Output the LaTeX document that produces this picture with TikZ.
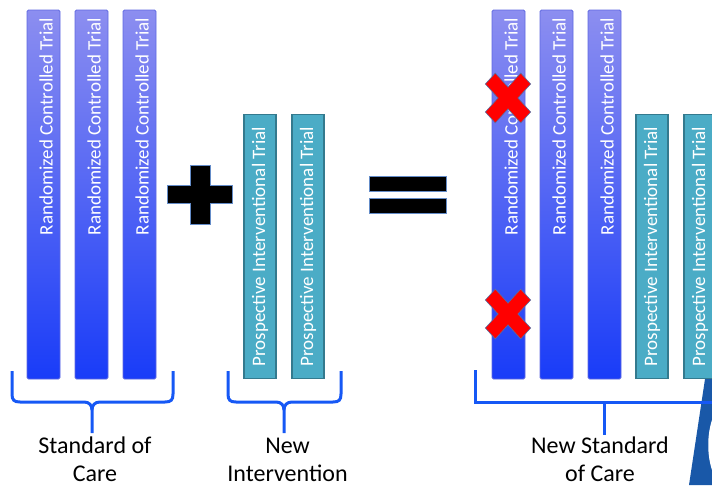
\documentclass[tikz,border=0pt]{standalone}
\usepackage{fontspec}
\setmainfont{Carlito}
\definecolor{rcttop}{RGB}{140,142,240}
\definecolor{rctbot}{RGB}{25,60,248}
\definecolor{rctline}{RGB}{95,105,225}
\definecolor{teal}{RGB}{75,172,198}
\definecolor{tealline}{RGB}{52,122,142}
\definecolor{braceblue}{RGB}{22,88,245}
\definecolor{xline}{RGB}{90,110,160}
\definecolor{symline}{RGB}{100,140,200}
\definecolor{logoblue}{RGB}{25,88,168}
\begin{document}
\begin{tikzpicture}[x=1pt,y=-1pt,
 rct/.style={draw=rctline, line width=0.8pt, top color=rcttop, bottom color=rctbot, minimum width=33pt, minimum height=369pt, inner sep=0pt, rounded corners=1.5pt},
 pit/.style={draw=tealline, line width=1.6pt, fill=teal, minimum width=32pt, minimum height=264pt, inner sep=0pt},
 btext/.style={rotate=90, text=white, font=\fontsize{19}{21}\selectfont, inner sep=0pt},
 brace/.style={draw=braceblue, line width=3pt},
 lbl/.style={align=center, font=\fontsize{24}{28}\selectfont, inner sep=0pt, anchor=base},
 xmark/.style={fill=red, draw=xline, line width=0.6pt},
 sym/.style={fill=black, draw=symline, line width=0.8pt},
 pics/xcross/.style={code={\draw[xmark, rotate=45] (-7,25) -- (7,25) -- (7,7) -- (25,7) -- (25,-7) -- (7,-7) -- (7,-25) -- (-7,-25) -- (-7,-7) -- (-25,-7) -- (-25,7) -- (-7,7) -- cycle;}}]
\useasboundingbox (0,0) rectangle (712,485);
\clip (0,0) rectangle (712,485);

% left RCT bars
\foreach \n/\x in {r1/43.5, r2/91.5, r3/139.5}{
  \node[rct] (\n) at (\x,194.5) {};
  \node[btext, anchor=east] (\n t) at ([xshift=2.5pt,yshift=-8pt]\n.north) {Randomized Controlled Trial};
}
% middle PIT bars
\foreach \n/\x in {p1/260, p2/308}{
  \node[pit] (\n) at (\x,246.5) {};
  \node[btext] (\n t) at (\n) {Prospective Interventional Trial};
}
% right RCT bars
\foreach \n/\x in {s1/508.5, s2/556.5, s3/604.5}{
  \node[rct] (\n) at (\x,194.5) {};
  \node[btext, anchor=east] (\n t) at ([xshift=2.5pt,yshift=-8pt]\n.north) {Randomized Controlled Trial};
}
% right PIT bars
\foreach \n/\x in {q1/652, q2/700}{
  \node[pit] (\n) at (\x,246.5) {};
  \node[btext] (\n t) at (\n) {Prospective Interventional Trial};
}

% red crosses
\pic[yscale=1.1] at (508,98) {xcross};
\pic[yscale=1.1] at (508,314) {xcross};

% plus sign
\draw[sym] (190,165) -- (210,165) -- (210,185) -- (232,185) -- (232,203) -- (210,203) -- (210,224) -- (190,224) -- (190,203) -- (167,203) -- (167,185) -- (190,185) -- cycle;
% equals sign
\draw[sym] (369,176) rectangle (446,191);
\draw[sym] (369,198) rectangle (446,213);

% logo fragment
\fill[logoblue] (689,485) -- (705,379) -- (712,379) -- (712,485) -- cycle;
\fill[white] (712,420) .. controls (707,435) and (707,455) .. (712,470) -- cycle;

% braces
\draw[brace] (12,371) -- (12,394) .. controls (12,400) and (14,402) .. (20,402) -- (84,402) .. controls (89,402) and (92,405) .. (92,410) -- (92,433);
\draw[brace] (173,371) -- (173,394) .. controls (173,400) and (171,402) .. (165,402) -- (100,402) .. controls (95,402) and (92,405) .. (92,410);
\draw[brace] (228,371) -- (228,394) .. controls (228,400) and (230,402) .. (236,402) -- (276,402) .. controls (281,402) and (284,405) .. (284,410) -- (284,433);
\draw[brace] (341,371) -- (341,394) .. controls (341,400) and (339,402) .. (333,402) -- (292,402) .. controls (287,402) and (284,405) .. (284,410);
\draw[brace] (475,370) -- (475,402) -- (712,402);
\draw[brace] (604,402) -- (604,435);

% labels (anchor = baseline of last line)
\node[lbl] (soc) at (95,481) {Standard of\\Care};
\node[lbl] (ni) at (287.5,481) {New\\Intervention};
\node[lbl] (nsoc) at (600,481) {New Standard\\of Care};
\end{tikzpicture}
\end{document}
